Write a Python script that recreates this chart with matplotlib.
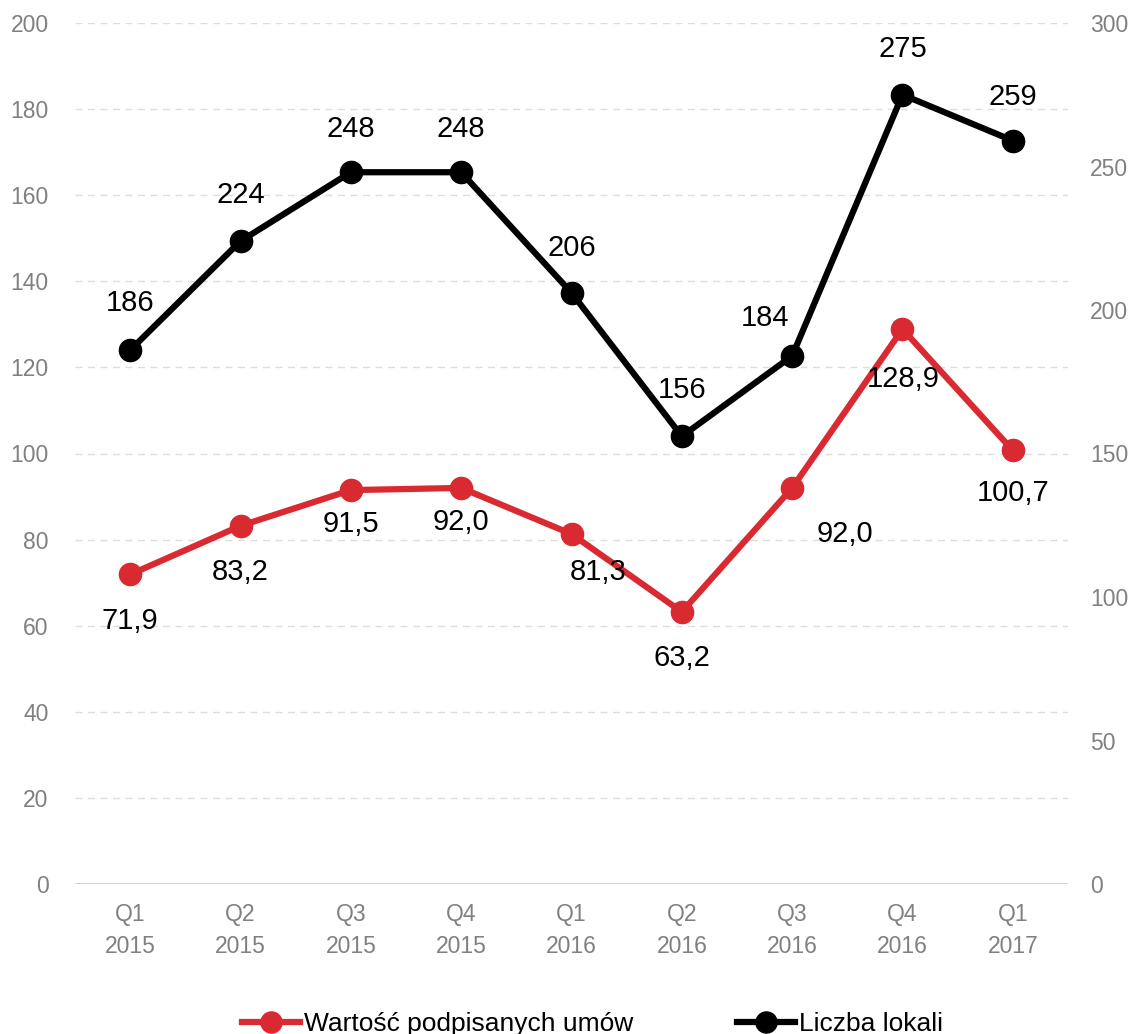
import matplotlib
matplotlib.use("Agg")
import matplotlib.pyplot as plt
from matplotlib import font_manager

names = {f.name for f in font_manager.fontManager.ttflist}
fam = ["Liberation Sans Narrow", "Liberation Sans", "DejaVu Sans"]
fam = [f for f in fam if f in names] + ["DejaVu Sans"]
plt.rcParams['font.family'] = fam

categories = ["Q1\n2015", "Q2\n2015", "Q3\n2015", "Q4\n2015", "Q1\n2016",
              "Q2\n2016", "Q3\n2016", "Q4\n2016", "Q1\n2017"]
wartosc = [71.9, 83.2, 91.5, 92.0, 81.3, 63.2, 92.0, 128.9, 100.7]
liczba = [186, 224, 248, 248, 206, 156, 184, 275, 259]
wartosc_labels = ["71,9", "83,2", "91,5", "92,0", "81,3", "63,2", "92,0", "128,9", "100,7"]
left_ticks = [0, 20, 40, 60, 80, 100, 120, 140, 160, 180, 200]
right_ticks = [0, 50, 100, 150, 200, 250, 300]

RED = "#DA2A31"
GRAY = "#808080"

fig = plt.figure(figsize=(11.35, 10.34), dpi=100)
ax = fig.add_axes([75/1135, 1-884/1034, (1068-75)/1135, (884-23)/1034])
ax2 = ax.twinx()

x = list(range(len(categories)))
ax.set_xlim(-0.5, len(categories)-0.5)
ax.set_ylim(0, 200)
ax2.set_ylim(0, 300)

for t in left_ticks[1:]:
    ax.axhline(t, color="#DDDDDD", lw=1, ls=(0, (5, 4)), zorder=0)
ax.axhline(0, color="#D0D0D0", lw=1.3, zorder=0)

l1, = ax.plot(x, wartosc, color=RED, lw=4.5, marker="o", ms=16, zorder=3,
              label="Wartość podpisanych umów")
l2, = ax2.plot(x, liczba, color="black", lw=4.5, marker="o", ms=16, zorder=3,
               label="Liczba lokali")

# label offsets in pixels
red_off = [(0, -47), (0, -46), (0, -34), (0, -34), (27, -38), (0, -46), (53, -46), (1, -50), (0, -43)]
blk_off = [(0, 47), (0, 46), (0, 43), (0, 43), (0, 45), (0, 46), (-27, 38), (0, 46), (0, 44)]
for i, (v, lab) in enumerate(zip(wartosc, wartosc_labels)):
    ax.annotate(lab, (i, v), xytext=red_off[i], textcoords="offset pixels",
                ha="center", va="center", fontsize=21, color="black", zorder=5)
for i, v in enumerate(liczba):
    ax2.annotate(str(v), (i, v), xytext=blk_off[i], textcoords="offset pixels",
                 ha="center", va="center", fontsize=21, color="black", zorder=5)

ax.set_xticks(x)
ax.set_xticklabels(categories, fontsize=16.5, color=GRAY, linespacing=1.45)
ax.set_yticks(left_ticks)
ax.set_yticklabels([str(t) for t in left_ticks], fontsize=16.5, color=GRAY)
ax2.set_yticks(right_ticks)
ax2.set_yticklabels([str(t) for t in right_ticks], fontsize=16.5, color=GRAY)
for a in (ax, ax2):
    for s in a.spines.values():
        s.set_visible(False)
    a.tick_params(length=0)
ax.tick_params(axis="y", pad=19)
ax.tick_params(axis="x", pad=14)
ax2.tick_params(axis="y", pad=16)

fig.legend(handles=[l1, l2], loc="lower left", bbox_to_anchor=(218/1135, -0.025),
           ncol=2, frameon=False, fontsize=19, handlelength=2.2, handletextpad=0.15,
           columnspacing=3.95, markerscale=0.95)

fig.savefig("out.png", dpi=100)
